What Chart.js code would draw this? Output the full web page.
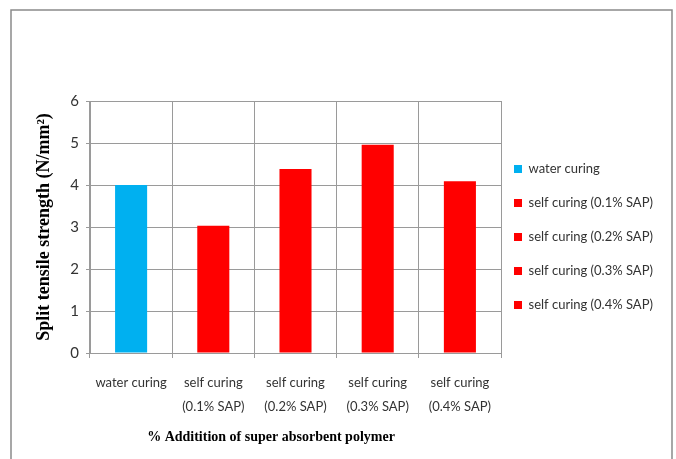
<!DOCTYPE html>
<html>
<head>
<meta charset="utf-8">
<script src="https://cdn.jsdelivr.net/npm/chart.js@4/dist/chart.umd.min.js"></script>
<style>
  html, body { margin: 0; padding: 0; background: #ffffff; }
  #wrap { width: 676px; height: 459px; position: relative; }
</style>
</head>
<body>
<div id="wrap"><canvas id="chart" width="676" height="459"></canvas></div>
<script>
// Split tensile strength by curing method
const categories = [
  ['water curing'],
  ['self curing', '(0.1% SAP)'],
  ['self curing', '(0.2% SAP)'],
  ['self curing', '(0.3% SAP)'],
  ['self curing', '(0.4% SAP)']
];
const strengthValues = [4.0, 3.03, 4.38, 4.96, 4.09];
const barColors = ['#00B0F0', '#FF0000', '#FF0000', '#FF0000', '#FF0000'];
const yTicks = [0, 1, 2, 3, 4, 5, 6];

const labelFont = "'Lato', sans-serif";
const titleFont = "'Liberation Serif', 'Times New Roman', serif";

// white page with a thin grey frame around the whole figure
const framePlugin = {
  id: 'frame',
  beforeDraw(chart) {
    const ctx = chart.ctx;
    ctx.save();
    ctx.fillStyle = '#ffffff';
    ctx.fillRect(0, 0, chart.width, chart.height);
    ctx.strokeStyle = '#8a8a8a';
    ctx.lineWidth = 1.5;
    ctx.strokeRect(11, 10, chart.width - 15, chart.height + 20);
    ctx.restore();
  }
};

// shift the legend block a little lower and closer to the plot
const legendShift = {
  id: 'legendShift',
  afterLayout(chart) {
    const lg = chart.legend;
    if (!lg) return;
    lg.top += 10; lg.bottom += 10;
    lg.left -= 8; lg.right -= 8;
  }
};

new Chart(document.getElementById('chart'), {
  type: 'bar',
  data: {
    labels: categories,
    datasets: [{
      data: strengthValues,
      backgroundColor: barColors,
      borderWidth: 0,
      barPercentage: 0.39,
      categoryPercentage: 1.0
    }]
  },
  plugins: [framePlugin, legendShift],
  options: {
    responsive: false,
    animation: false,
    layout: { padding: { top: 101, left: 0, right: 8, bottom: 0 } },
    plugins: {
      tooltip: { enabled: false },
      legend: {
        position: 'right',
        fullSize: false,
        labels: {
          boxWidth: 8,
          boxHeight: 8,
          padding: 21,
          color: '#333333',
          font: { family: labelFont, size: 13 },
          generateLabels(chart) {
            return categories.map((c, i) => ({
              text: c.join(' '),
              fillStyle: barColors[i],
              strokeStyle: barColors[i],
              lineWidth: 0,
              hidden: false,
              index: i,
              fontColor: '#333333'
            }));
          }
        }
      }
    },
    scales: {
      x: {
        afterFit(scale) { scale.height = 106; },
        offset: true,
        grid: {
          offset: true,
          color: '#9a9a9a',
          lineWidth: 1,
          tickLength: 5,
          drawTicks: true
        },
        border: { color: '#9a9a9a' },
        ticks: {
          color: '#333333',
          padding: 13,
          maxRotation: 0,
          font: { family: labelFont, size: 13, lineHeight: 1.85 }
        },
        title: {
          display: true,
          text: '% Additition of super absorbent polymer              ',
          color: '#000000',
          font: { family: titleFont, size: 14, weight: 'bold' },
          padding: { top: 0, bottom: 13 }
        }
      },
      y: {
        afterFit(scale) { scale.width = 90; },
        min: 0,
        max: 6,
        afterBuildTicks(scale) { scale.ticks = yTicks.map(v => ({ value: v })); },
        grid: { color: '#9a9a9a', lineWidth: 1, tickLength: 4 },
        border: { color: '#9a9a9a' },
        ticks: {
          color: '#333333',
          padding: 7,
          font: { family: labelFont, size: 15 }
        },
        title: {
          display: true,
          text: 'Split tensile strength (N/mm²)',
          color: '#000000',
          font: { family: titleFont, size: 18, weight: 'bold' },
          padding: { top: 34, bottom: 0 }
        }
      }
    }
  }
});
</script>
</body>
</html>
